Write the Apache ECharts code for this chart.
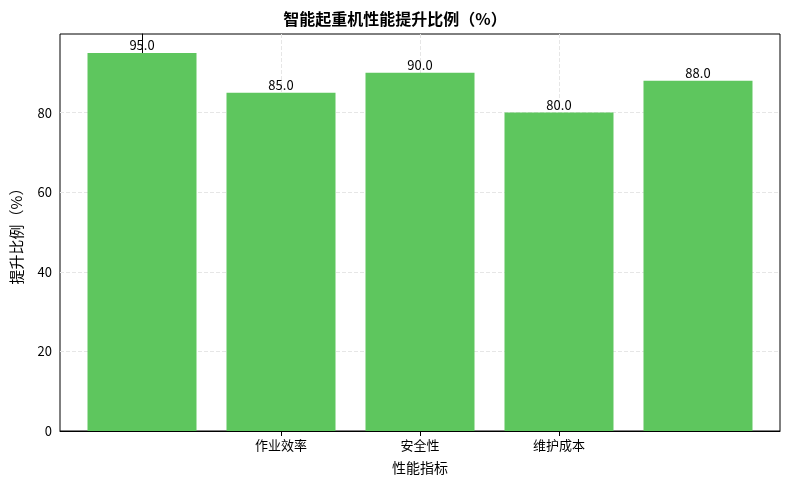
<!DOCTYPE html>
<html><head><meta charset="utf-8">
<script src="https://cdn.jsdelivr.net/npm/echarts@6/dist/echarts.min.js"></script>
<style>html,body{margin:0;padding:0;background:#fff}#c{width:790px;height:490px}</style>
</head><body><div id="c"></div>
<script>
const categories = ['定位精度','作业效率','安全性','维护成本','适应性'];
const values = [95.0, 85.0, 90.0, 80.0, 88.0];
const yTicks = [0, 20, 40, 60, 80];
const font = '"Noto Sans CJK SC", "DejaVu Sans", sans-serif';
const chart = echarts.init(document.getElementById('c'));
chart.setOption({
  animation: false,
  title: { text: '智能起重机性能提升比例（%）', left: 'center', top: 6,
    textStyle: { fontFamily: font, fontSize: 16, fontWeight: 'bold', color: '#000' } },
  grid: { left: 60, right: 10, top: 34, bottom: 59, show: true, borderColor: '#000', borderWidth: 1 },
  xAxis: { type: 'value', min: -0.59, max: 4.59, interval: 1, name: '性能指标', nameLocation: 'middle', nameGap: 30,
    nameTextStyle: { fontFamily: font, fontSize: 14, color: '#000' },
    axisLine: { lineStyle: { color: '#000' } }, axisTick: { show: true, lineStyle: { color: '#000' },
      customValues: [0,1,2,3,4] },
    axisLabel: { fontFamily: font, fontSize: 13, color: '#000', showMinLabel: false, showMaxLabel: false,
      customValues: [0,1,2,3,4],
      formatter: v => categories[Math.round(v)] ?? '' },
    splitLine: { show: true, showMinLine: false, showMaxLine: false, lineStyle: { type: 'dashed', color: '#e6e6e6' } } },
  yAxis: { type: 'value', min: 0, max: 99.75, interval: 20, name: '提升比例（%）', nameLocation: 'middle', nameGap: 36,
    nameTextStyle: { fontFamily: font, fontSize: 15, color: '#000' },
    axisLine: { show: true, lineStyle: { color: '#000' } }, axisTick: { show: true, lineStyle: { color: '#000' } },
    axisLabel: { fontFamily: font, fontSize: 13, color: '#000', showMaxLabel: false,
      formatter: v => yTicks.includes(v) ? String(v) : '' },
    splitLine: { show: true, showMaxLine: false, lineStyle: { type: 'dashed', color: '#e6e6e6' } } },
  series: [{ type: 'bar', data: values.map((v, i) => [i, v]), barWidth: 109,
    itemStyle: { color: '#5ec65e' },
    label: { show: true, position: 'top', distance: 1, fontFamily: font, fontSize: 13, color: '#000',
      formatter: p => p.value[1].toFixed(1) } }]
});
</script></body></html>
